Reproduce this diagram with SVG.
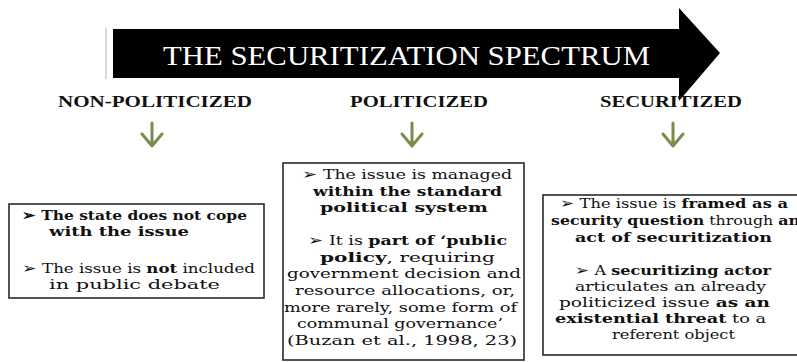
<svg xmlns="http://www.w3.org/2000/svg" width="797" height="362" viewBox="0 0 797 362">
<style>
text{font-family:"Liberation Serif","DejaVu Serif",serif}
.box{fill:#fff;stroke:#2a2a2a;stroke-width:1.6}
.t{font-family:"DejaVu Serif",serif;font-size:13.5px;fill:#111}
.b{font-weight:bold}
.h{font-size:16px;font-weight:bold;fill:#111}
.g{fill:none;stroke:#7a8c4e;stroke-width:3;stroke-linecap:round;stroke-linejoin:round}
</style>
<rect width="797" height="362" fill="#fff"/>
<g id="banner">
<line x1="106" y1="28" x2="106" y2="79" stroke="#ccc" stroke-width="1.5"/>
<polygon points="113,29 679,29 679,8 720,53 679,101 679,78 113,78" fill="#000"/>
<text x="163" y="65" font-size="28" fill="#fff" textLength="487" lengthAdjust="spacingAndGlyphs">THE SECURITIZATION SPECTRUM</text>
</g>
<g id="h-non">
<text class="h" x="58" y="107" textLength="194" lengthAdjust="spacingAndGlyphs">NON-POLITICIZED</text>
</g>
<g id="h-pol">
<text class="h" x="350" y="107" textLength="138" lengthAdjust="spacingAndGlyphs">POLITICIZED</text>
</g>
<g id="h-sec">
<text class="h" x="600" y="107" textLength="142" lengthAdjust="spacingAndGlyphs">SECURITIZED</text>
</g>
<g id="connectors">
<path class="g" d="M152,123 V145 M142,134 L152,146 L162,134"/>
<path class="g" d="M412,123 V145 M402,134 L412,146 L422,134"/>
<path class="g" d="M673,123 V145 M663,134 L673,146 L683,134"/>
</g>
<g id="box-non">
<rect class="box" x="9" y="204" width="255" height="94"/>
<text class="t b" x="22" y="220" textLength="225" lengthAdjust="spacingAndGlyphs">➢ The state does not cope</text>
<text class="t b" x="49" y="236" textLength="140" lengthAdjust="spacingAndGlyphs">with the issue</text>
<text class="t" x="22" y="273" textLength="233" lengthAdjust="spacingAndGlyphs">➢ The issue is <tspan class="b">not</tspan> included</text>
<text class="t" x="49" y="289" textLength="171" lengthAdjust="spacingAndGlyphs">in public debate</text>
</g>
<g id="box-pol">
<rect class="box" x="283" y="163" width="241" height="197"/>
<text class="t" x="302" y="179" textLength="210" lengthAdjust="spacingAndGlyphs">➢ The issue is managed</text>
<text class="t b" x="313" y="196" textLength="189" lengthAdjust="spacingAndGlyphs">within the standard</text>
<text class="t b" x="320" y="212" textLength="168" lengthAdjust="spacingAndGlyphs">political system</text>
<text class="t" x="308" y="245" textLength="199" lengthAdjust="spacingAndGlyphs">➢ It is <tspan class="b">part of ‘public</tspan></text>
<text class="t" x="320" y="262" textLength="175" lengthAdjust="spacingAndGlyphs"><tspan class="b">policy</tspan>, requiring</text>
<text class="t" x="287" y="278" textLength="234" lengthAdjust="spacingAndGlyphs">government decision and</text>
<text class="t" x="295" y="295" textLength="220" lengthAdjust="spacingAndGlyphs">resource allocations, or,</text>
<text class="t" x="284" y="312" textLength="233" lengthAdjust="spacingAndGlyphs">more rarely, some form of</text>
<text class="t" x="297" y="328" textLength="206" lengthAdjust="spacingAndGlyphs">communal governance’</text>
<text class="t" x="287" y="345" textLength="230" lengthAdjust="spacingAndGlyphs">(Buzan et al., 1998, 23)</text>
</g>
<g id="box-sec">
<rect class="box" x="543" y="195" width="262" height="160"/>
<text class="t" x="560" y="208" textLength="228" lengthAdjust="spacingAndGlyphs">➢ The issue is <tspan class="b">framed as a</tspan></text>
<text class="t" x="551" y="225" textLength="249" lengthAdjust="spacingAndGlyphs"><tspan class="b">security question</tspan> through <tspan class="b">an</tspan></text>
<text class="t b" x="575" y="242" textLength="197" lengthAdjust="spacingAndGlyphs">act of securitization</text>
<text class="t" x="575" y="275" textLength="196" lengthAdjust="spacingAndGlyphs">➢ A <tspan class="b">securitizing actor</tspan></text>
<text class="t" x="575" y="291" textLength="191" lengthAdjust="spacingAndGlyphs">articulates an already</text>
<text class="t" x="559" y="307" textLength="211" lengthAdjust="spacingAndGlyphs">politicized issue <tspan class="b">as an</tspan></text>
<text class="t" x="555" y="323" textLength="211" lengthAdjust="spacingAndGlyphs"><tspan class="b">existential threat</tspan> to a</text>
<text class="t" x="612" y="339" textLength="123" lengthAdjust="spacingAndGlyphs">referent object</text>
</g>
</svg>
